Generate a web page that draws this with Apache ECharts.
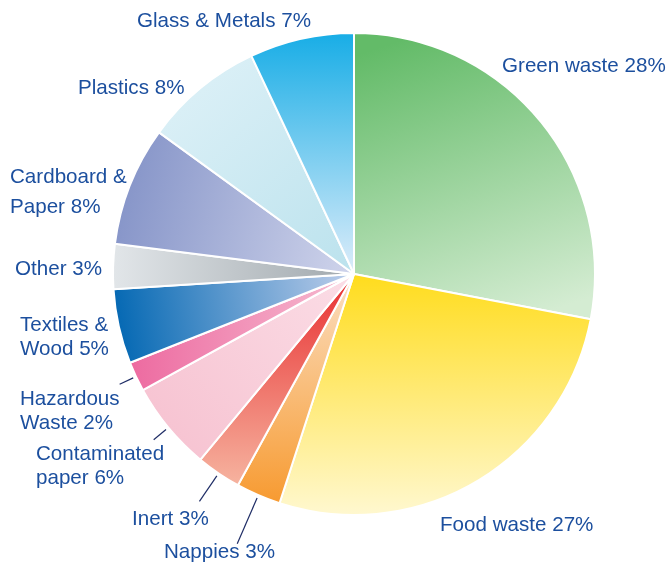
<!DOCTYPE html>
<html>
<head>
<meta charset="utf-8">
<script src="https://cdn.jsdelivr.net/npm/echarts@6/dist/echarts.min.js"></script>
<style>
  html, body { margin: 0; padding: 0; background: #fff; }
  #container { width: 668px; height: 565px; }
</style>
</head>
<body>
<div id="container"></div>
<script>
// slices, clockwise from 12 o'clock
var names = ['Green waste', 'Food waste', 'Nappies', 'Inert', 'Contaminated\npaper',
  'Hazardous\nWaste', 'Textiles &\nWood', 'Other', 'Cardboard &\nPaper', 'Plastics', 'Glass & Metals'];
var values = [28, 27, 3, 3, 6, 2, 5, 3, 8, 8, 7];

// gradient per slice: [x, y, x2, y2, from, to]
var fills = [
  [0.3, 0, 0.7, 1, '#63bb68', '#d4ecd2'],
  [0.5, 0, 0.5, 1, '#ffdc1c', '#fff8d0'],
  [0.5, 0, 0.5, 1, '#fbe0c4', '#f79a30'],
  [0.5, 0, 0.5, 1, '#e82e30', '#f6b4a0'],
  [1, 0, 0, 1, '#fbdde6', '#f6c0cf'],
  [0, 0.5, 1, 0.5, '#ed6aa0', '#f6bcd1'],
  [0, 0.7, 1, 0.3, '#0066b2', '#bccdea'],
  [0, 0.5, 1, 0.5, '#e2e6e9', '#a0a8ad'],
  [0, 0.3, 1, 0.7, '#8392c7', '#cdd2ea'],
  [0, 0, 1, 1, '#e0f2f8', '#bbe2ed'],
  [0.5, 0, 0.5, 1, '#17ade6', '#deedfa']
];

// label placement (left edge, vertical middle) and leader length past the rim
var labelX = [502, 440, 164, 132, 36, 20, 20, 15, 10, 78, 137];
var labelY = [66, 525, 552, 519, 466, 411, 337, 269, 192, 88, 21];
var lineLen = [0, 0, 53, 34, 19, 18, 0, 0, 0, 0, 0];

var CX = 354, CY = 274, R = 241;
var total = values.reduce(function (a, b) { return a + b; }, 0);

function midAngle(i) {
  var before = 0;
  for (var k = 0; k < i; k++) before += values[k];
  return (before + values[i] / 2) / total * Math.PI * 2;
}

var data = names.map(function (n, i) {
  var f = fills[i];
  var item = {
    name: n,
    value: values[i],
    itemStyle: {
      color: new echarts.graphic.LinearGradient(f[0], f[1], f[2], f[3], [
        { offset: 0, color: f[4] },
        { offset: 1, color: f[5] }
      ])
    },
    labelLine: { show: lineLen[i] > 0 }
  };
  if (i === 8) item.label = { lineHeight: 30 };
  return item;
});

var myChart = echarts.init(document.getElementById('container'));
myChart.setOption({
  animation: false,
  series: [{
    type: 'pie',
    center: [CX, CY],
    radius: R,
    startAngle: 90,
    clockwise: true,
    avoidLabelOverlap: false,
    silent: true,
    data: data,
    itemStyle: { borderColor: '#ffffff', borderWidth: 2 },
    label: {
      show: true,
      position: 'outside',
      formatter: '{b} {c}%',
      color: '#1c4f9e',
      fontFamily: '"Liberation Sans", Arial, Helvetica, sans-serif',
      fontSize: 20.6,
      lineHeight: 24
    },
    labelLine: {
      show: false,
      length: 10,
      length2: 0,
      lineStyle: { color: '#1f2d66', width: 1.2 }
    },
    labelLayout: function (p) {
      var i = p.dataIndex;
      var out = { x: labelX[i], y: labelY[i], align: 'left', verticalAlign: 'middle' };
      if (lineLen[i] > 0) {
        var a = midAngle(i);
        var dx = Math.sin(a), dy = -Math.cos(a);
        out.labelLinePoints = [
          [CX + dx * (R + 3), CY + dy * (R + 3)],
          [CX + dx * (R + lineLen[i]), CY + dy * (R + lineLen[i])]
        ];
      }
      return out;
    }
  }]
});
</script>
</body>
</html>
